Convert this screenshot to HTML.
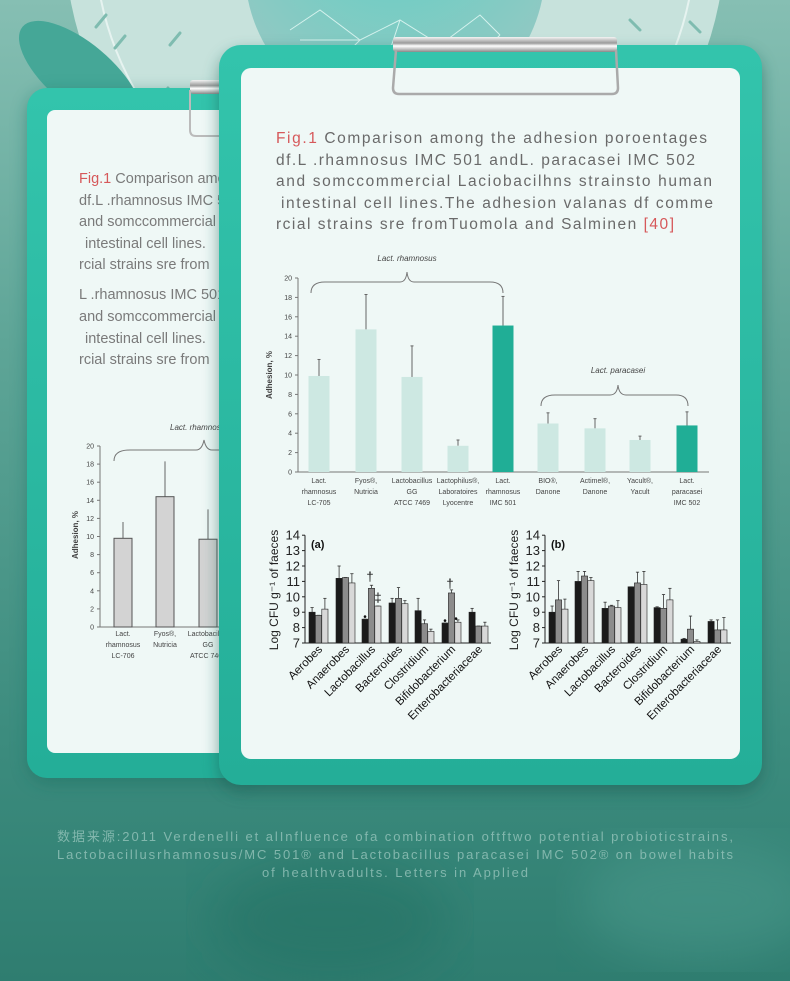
<!DOCTYPE html>
<html><head><meta charset="utf-8"><style>
html,body{margin:0;padding:0;width:790px;height:981px;overflow:hidden;background:#3f8d80}
svg{display:block}
text{font-family:"Liberation Sans","Noto Sans CJK SC",sans-serif}
</style></head><body>
<svg id="s" width="790" height="981" viewBox="0 0 790 981" xmlns="http://www.w3.org/2000/svg">
<defs>
<linearGradient id="bg" x1="0" y1="0" x2="0" y2="1">
<stop offset="0" stop-color="#86bfb3"/><stop offset="0.35" stop-color="#5ea597"/><stop offset="0.75" stop-color="#3c8c7e"/><stop offset="1" stop-color="#2f7d70"/></linearGradient>
<radialGradient id="sph" cx="0.5" cy="0.3" r="0.6"><stop offset="0" stop-color="#5fd0c4"/><stop offset="1" stop-color="#8ec9c3"/></radialGradient>
<linearGradient id="clip" x1="0" y1="0" x2="0" y2="1"><stop offset="0" stop-color="#f4f4f4"/><stop offset="0.4" stop-color="#9a9a9a"/><stop offset="0.6" stop-color="#ffffff"/><stop offset="1" stop-color="#888"/></linearGradient>
<linearGradient id="board" x1="0" y1="0" x2="0" y2="1"><stop offset="0" stop-color="#33c4ac"/><stop offset="1" stop-color="#24ae98"/></linearGradient>
<filter id="sh" x="-10%" y="-10%" width="130%" height="130%"><feGaussianBlur stdDeviation="8"/></filter>
<filter id="bl"><feGaussianBlur stdDeviation="25"/></filter>
</defs>
<rect width="790" height="981" fill="url(#bg)"/>
<ellipse cx="330" cy="920" rx="120" ry="60" fill="#216f62" opacity="0.5" filter="url(#bl)"/>
<ellipse cx="700" cy="900" rx="120" ry="60" fill="#4d9b8e" opacity="0.5" filter="url(#bl)"/>
<circle cx="395" cy="-60" r="330" fill="#c7e2dc"/>
<circle cx="395" cy="-60" r="300" fill="none" stroke="#e6f3f0" stroke-width="2"/>
<g stroke="#7fbcb0" stroke-width="3" stroke-linecap="round">
<line x1="96" y1="27" x2="106" y2="15"/><line x1="115" y1="48" x2="125" y2="36"/><line x1="170" y1="45" x2="180" y2="33"/><line x1="160" y1="100" x2="168" y2="88"/><line x1="130" y1="145" x2="138" y2="133"/>
<line x1="630" y1="20" x2="640" y2="30"/><line x1="690" y1="22" x2="700" y2="32"/>
</g>
<circle cx="395" cy="-30" r="150" fill="url(#sph)"/>
<g stroke="#e8fbf8" stroke-width="1" fill="none" opacity="0.8">
<path d="M290 30 L320 10 L360 40 L400 20 L440 45 L480 15 L500 35 M300 40 L360 40 L330 70 L380 80 L400 20 M440 45 L420 80 L380 80 M440 45 L470 65 L500 35 M330 70 L350 100 L380 80 L420 80 L450 100 L470 65"/>
</g>
<ellipse cx="80" cy="75" rx="75" ry="32" transform="rotate(40 80 75)" fill="#45a797"/>
<!-- back board -->
<rect x="27" y="92" width="230" height="692" rx="22" fill="#1f6f62" opacity="0.5" filter="url(#sh)"/>
<rect x="27" y="88" width="230" height="690" rx="20" fill="url(#board)"/>
<rect x="47" y="110" width="200" height="643" rx="8" fill="#eff8f6"/>
<rect x="190" y="80" width="40" height="14" rx="3" fill="url(#clip)"/>
<path d="M190 90 L190 130 Q190 136 196 136 L225 136" fill="none" stroke="#bbb" stroke-width="2"/>
<g font-size="14.5" fill="#7a7a7a">
<text x="79" y="183"><tspan fill="#d6585a">Fig.1</tspan> Comparison among</text>
<text x="79" y="205">df.L .rhamnosus IMC 501</text>
<text x="79" y="226">and somccommercial</text>
<text x="85" y="248">intestinal cell lines.</text>
<text x="79" y="269">rcial strains sre from</text>
<text x="79" y="299">L .rhamnosus IMC 501</text>
<text x="79" y="321">and somccommercial</text>
<text x="85" y="343">intestinal cell lines.</text>
<text x="79" y="364">rcial strains sre from</text>
</g>
<g id="back" font-size="7" fill="#444"></g>
<!-- front board -->
<rect x="219" y="52" width="543" height="740" rx="24" fill="#1b5f54" opacity="0.55" filter="url(#sh)"/>
<rect x="219" y="45" width="543" height="740" rx="22" fill="url(#board)"/>
<rect x="241" y="68" width="499" height="691" rx="10" fill="#eff8f6"/>
<rect x="393" y="37" width="224" height="15" rx="3" fill="url(#clip)"/>
<path d="M396 50 L393 88 Q393 94 399 94 L612 94 Q618 94 618 88 L616 50" fill="none" stroke="#aaa" stroke-width="2.5"/>
<g font-size="15.5" fill="#6a6a6a">
<text x="276" y="143" textLength="431"><tspan fill="#d6585a">Fig.1</tspan> Comparison among the adhesion poroentages</text>
<text x="276" y="165" textLength="419">df.L .rhamnosus IMC 501 andL. paracasei IMC 502</text>
<text x="276" y="186" textLength="436">and somccommercial Laciobacilhns strainsto human</text>
<text x="281" y="208" textLength="432">intestinal cell lines.The adhesion valanas df comme</text>
<text x="276" y="229" textLength="398">rcial strains sre fromTuomola and Salminen <tspan fill="#d6585a">[40]</tspan></text>
</g>
<g id="c1" font-size="7" fill="#444"></g>
<g id="ca"></g>
<g id="cb"></g>
<g font-size="13" fill="#9cc8bf" text-anchor="middle" opacity="0.75">
<text x="395" y="841" textLength="676">数据来源:2011 Verdenelli et alInfluence ofa combination oftftwo potential probioticstrains,</text>
<text x="395" y="859" textLength="676">Lactobacillusrhamnosus/MC 501® and Lactobacillus paracasei IMC 502® on bowel habits</text>
<text x="395" y="877" textLength="266">of healthvadults. Letters in Applied</text>
</g>
</svg>
<script>
var NS="http://www.w3.org/2000/svg";
function el(p,t,a,txt){var e=document.createElementNS(NS,t);for(var k in a)e.setAttribute(k,a[k]);if(txt!=null)e.textContent=txt;p.appendChild(e);return e;}
(function(){var g=document.getElementById('c1');var X0=298,Y0=472,k=9.7;
el(g,'line',{x1:X0,y1:Y0,x2:X0,y2:Y0-20*k,stroke:'#777','stroke-width':1});
el(g,'line',{x1:X0-3,y1:Y0,x2:709,y2:Y0,stroke:'#777','stroke-width':1});
for(var v=0;v<=20;v+=2){var y=Y0-v*k;el(g,'line',{x1:X0-3,y1:y,x2:X0,y2:y,stroke:'#777'});el(g,'text',{x:X0-6,y:y+2.5,'text-anchor':'end'},v);}
el(g,'text',{transform:'translate(272 375) rotate(-90)','text-anchor':'middle','font-size':'8','font-weight':'bold'},'Adhesion, %');
var cx=[319,366,412,458,503,548,595,640,687],val=[9.9,14.7,9.8,2.7,15.1,5.0,4.5,3.3,4.8],er=[11.6,18.3,13,3.3,18.1,6.1,5.5,3.7,6.2];
var lab=[["Lact.","rhamnosus","LC-705"],["Fyos®,","Nutricia"],["Lactobacillus","GG","ATCC 7469"],["Lactophilus®,","Laboratoires","Lyocentre"],["Lact.","rhamnosus","IMC 501"],["BIO®,","Danone"],["Actimel®,","Danone"],["Yacult®,","Yacult"],["Lact.","paracasei","IMC 502"]];
for(var i=0;i<9;i++){var c=(i==4||i==8)?'#20ae96':'#cde8e2';
el(g,'line',{x1:cx[i],y1:Y0-val[i]*k,x2:cx[i],y2:Y0-er[i]*k,stroke:'#666'});el(g,'line',{x1:cx[i]-1.5,y1:Y0-er[i]*k,x2:cx[i]+1.5,y2:Y0-er[i]*k,stroke:'#666'});
el(g,'rect',{x:cx[i]-10.5,y:Y0-val[i]*k,width:21,height:val[i]*k,fill:c});
for(var j=0;j<lab[i].length;j++)el(g,'text',{x:cx[i],y:483+j*11,'text-anchor':'middle'},lab[i][j]);}
el(g,'path',{d:'M311 293 Q311 282 325 282 L400 282 Q406 282 407 272 Q408 282 414 282 L490 282 Q503 282 503 293',fill:'none',stroke:'#777'});
el(g,'text',{x:407,y:261,'text-anchor':'middle','font-style':'italic','font-size':'8'},'Lact. rhamnosus');
el(g,'path',{d:'M541 406 Q541 395 555 395 L610 395 Q617 395 618 385 Q619 395 626 395 L676 395 Q688 395 688 406',fill:'none',stroke:'#777'});
el(g,'text',{x:618,y:373,'text-anchor':'middle','font-style':'italic','font-size':'8'},'Lact. paracasei');
})();
(function(){var g=document.getElementById('back');var X0=100,Y0=627,k=9.05;
el(g,'line',{x1:X0,y1:Y0,x2:X0,y2:Y0-20*k,stroke:'#777'});el(g,'line',{x1:X0-3,y1:Y0,x2:219,y2:Y0,stroke:'#777'});
for(var v=0;v<=20;v+=2){var y=Y0-v*k;el(g,'line',{x1:X0-3,y1:y,x2:X0,y2:y,stroke:'#777'});el(g,'text',{x:X0-6,y:y+2.5,'text-anchor':'end'},v);}
el(g,'text',{transform:'translate(78 535) rotate(-90)','text-anchor':'middle','font-size':'8','font-weight':'bold'},'Adhesion, %');
var cx=[123,165,208],val=[9.8,14.4,9.7],er=[11.6,18.3,13];var lab=[["Lact.","rhamnosus","LC-706"],["Fyos®,","Nutricia"],["Lactobacillus","GG","ATCC 7469"]];
for(var i=0;i<3;i++){el(g,'line',{x1:cx[i],y1:Y0-val[i]*k,x2:cx[i],y2:Y0-er[i]*k,stroke:'#666'});
el(g,'rect',{x:cx[i]-9,y:Y0-val[i]*k,width:18,height:val[i]*k,fill:'#d3d3d3',stroke:'#555','stroke-width':1});
for(var j=0;j<lab[i].length;j++)el(g,'text',{x:cx[i],y:636+j*11,'text-anchor':'middle'},lab[i][j]);}
el(g,'path',{d:'M114 461 Q114 450 130 450 L196 450 Q202 450 204 440 Q206 450 212 450 L230 450',fill:'none',stroke:'#777'});
el(g,'text',{x:170,y:430,'font-style':'italic','font-size':'8'},'Lact. rhamnosus');
})();
function grp(id,X0,starts,vals,errs,tag){var g=document.getElementById(id);var Y0=643,k=15.4;
el(g,'line',{x1:X0,y1:Y0,x2:X0,y2:Y0-7*k,stroke:'#222'});el(g,'line',{x1:X0,y1:Y0,x2:X0+186,y2:Y0,stroke:'#222'});
for(var v=7;v<=14;v++){var y=Y0-(v-7)*k;el(g,'line',{x1:X0-3,y1:y,x2:X0,y2:y,stroke:'#222'});el(g,'text',{x:X0-5,y:y+4.5,'text-anchor':'end','font-size':'13',fill:'#222'},v);}
el(g,'text',{transform:'translate('+(X0-27)+' 590) rotate(-90)','text-anchor':'middle','font-size':'12',fill:'#222'},'Log CFU g\u207B\u00B9 of faeces');
el(g,'text',{x:X0+6,y:548,'font-size':'11','font-weight':'bold',fill:'#111'},tag);
var cols=['#1a1a1a','#8c8c8c','#d8d8d8'];var names=['Aerobes','Anaerobes','Lactobacillus','Bacteroides','Clostridium','Bifidobacterium','Enterobacteriaceae'];
for(var i=0;i<7;i++){for(var b=0;b<3;b++){var x=starts[i]+b*6.4,vv=vals[i][b],ee=errs[i][b];
el(g,'rect',{x:x,y:Y0-(vv-7)*k,width:6.2,height:(vv-7)*k,fill:cols[b],stroke:'#222','stroke-width':0.6});
el(g,'line',{x1:x+3.1,y1:Y0-(vv-7)*k,x2:x+3.1,y2:Y0-(ee-7)*k,stroke:'#333','stroke-width':0.8});el(g,'line',{x1:x+1.5,y1:Y0-(ee-7)*k,x2:x+4.7,y2:Y0-(ee-7)*k,stroke:'#333','stroke-width':0.8});}
el(g,'text',{transform:'translate('+(starts[i]+14)+' 650) rotate(-45)','text-anchor':'end','font-size':'11.5',fill:'#111'},names[i]);}
return g;}
var ga=grp('ca',305,[309,336,362,389,415,442,469],[[9,8.8,9.2],[11.2,11.25,10.9],[8.55,10.55,9.4],[9.6,9.9,9.55],[9.1,8.25,7.75],[8.3,10.25,8.35],[9,8.1,8.1]],[[9.3,8.8,9.9],[12,11.25,11.5],[8.55,10.75,9.4],[9.9,10.6,9.75],[9.9,8.5,7.9],[8.3,10.45,8.5],[9.25,8.1,8.35]],'(a)');
el(ga,'text',{x:370,y:581,'text-anchor':'middle','font-size':'13',fill:'#111'},'†');
el(ga,'text',{x:378,y:602,'text-anchor':'middle','font-size':'13',fill:'#111'},'‡');
el(ga,'text',{x:450,y:588,'text-anchor':'middle','font-size':'13',fill:'#111'},'†');
el(ga,'text',{x:365,y:620,'text-anchor':'middle','font-size':'10',fill:'#111'},'•');
el(ga,'text',{x:445,y:624,'text-anchor':'middle','font-size':'10',fill:'#111'},'•');
el(ga,'text',{x:456,y:622,'text-anchor':'middle','font-size':'10',fill:'#111'},'•');
grp('cb',545,[549,575,602,628,654,681,708],[[9,9.8,9.2],[11,11.35,11.05],[9.25,9.4,9.3],[10.65,10.9,10.8],[9.3,9.25,9.8],[7.25,7.9,7.1],[8.4,7.85,7.85]],[[9.4,11.05,9.85],[11.65,11.65,11.25],[9.65,9.45,9.75],[10.65,11.6,11.65],[9.35,10.15,10.55],[7.3,8.75,7.2],[8.5,8.5,8.65]],'(b)');
</script>
</body></html>
